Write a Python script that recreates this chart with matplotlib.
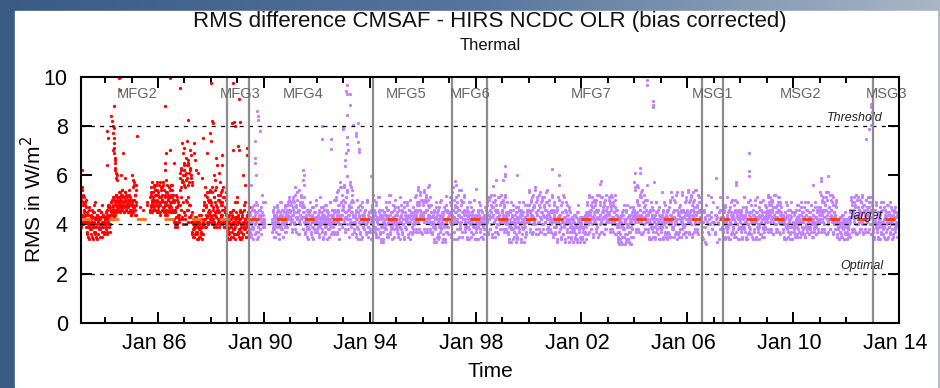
import numpy as np
import matplotlib.pyplot as plt
from matplotlib.patches import Rectangle
from matplotlib.colors import LinearSegmentedColormap
from matplotlib.transforms import ScaledTranslation

plt.rcParams['font.family'] = ['Liberation Sans', 'DejaVu Sans']
plt.rcParams['lines.scale_dashes'] = False

# each character is one RMS value: CODE index * 0.1 + 2.9 W/m2, '.' = no data
CODE = "0123456789abcdefghijklmnopqrstuvwxyz"
BASE, STEP = 2.9, 0.1

# MFG2/MFG3 period (red), one string per calendar year starting 1983
red_first_year = 1983
red_rms = [
    "..." + "hcmaqfkbnegjclf" + "d8gb6ica9fd7hbe5gca8kd6fbhc7ead9gb6jcfa8ed",
    "c9ge7hbjdfa8ifkdhmgjelfkhnigmj" + "hmjokilnhpjmgkiolhnjmikgpjl" + "gkf",
    "gvkitlrhnjpf" + "..............h.........j....." + "hnjqlgomkrihpjnlsg",
    "gojmsfkqhnlrigpmjtkhoflnqigmjrkhpnlg" + "ckaheniblfjd" + "cpuhxmsdvkrz",
    "xfqbwkuhzmseyjvcrg" + "7c9a6eb8xd7a5c9bfa6d8ub7" + "bhdkaqfjcmegbohdlf",
    "dkbqfiamcgpejbhldnagkcofjbhqdmagiclf" + "a6d9c7fb5ga8ec6hb9kd7ebm",
    "b7e9c5gd8a6fc7hb9dk6ae8cgb7" + "." * 33,
]
red_rms_2 = [
    "..." + "gdlbpejcmhfkai" + "c7fa5hdb9ec6gab8jd7ea5fcd9hb6gea8cfb7d",
    "bag8fdicjehbkgdlfimhkgnjlhi" + "kioglmjhnpikgmlojhkilgnjm" + "hjf",
    "hlgqjsifnkr" + "......i..............k....." + "gmioksjhqlnhrkgpi",
    "hnkrgjpmlqhsiknfogrjmlhqkpignrmkh" + "dlbgicmaked" + "fwjqyetbsgx",
    "gvdtlzhrcwjxeufs" + "8b6d9a7ce5b8wa6c9d7fa5" + "chbjdnaieoblfkcpg",
    "ejcodhbmfkaqgichldnbjepfkcmahdgob" + "b7e5c8ga6dfb9hc7ea5gdk",
    "c8f6d9hb5ega7cj9db6fc8eai" + "." * 30,
]

# MFG4 .. MSG3 period (purple), one string per calendar year starting 1989
purple_first_year = 1989
purple_rms = [
    "." * 27 + "d8gb6hcae9jd7fbkc5ga8dhe9bficndaf",
    "dak" + "." * 15 + "c8gb9eid6fajc7hbe5dgka9fc6hdbi8ecgaj" + "fkdhmb",
    "gcjd8mfhbkq9eidlg7hcpfjbndkeg9ime" + "c7fb9hda5gdkb8ecf6iad9gcbel",
    "d9fa6hcbmeb8gd5icfa7jdbheg9c6kdafb8hecl7gd" + "hcme8pgjb5sfkdqhai",
    "ldrg9kembphd6jfsciagnbke" + "c8fb6gdali9ec7hbd5fkac9gebh8dcl6fadg",
    "e9hc5jdbnfa8gd6kecb9mhd7fa4eb8c5gdaf9ie6hcbkd7nfa9gcjb6ehdla",
    "d8gb6icame9fc7hdb5kgad9ecj6fbhc8ldg7aeb9fc" + "hdnf8kgqc9jeoh8lfd",
    "kepg9ldhnc8jfqdi9mgeb" + "c7fa4hdb9ke6gc5iad8fbl4ecg7adh5jcb8gdaf",
    "gcmf7jdqbhe5lgicr9kdfn6hebpjc8gkdmfa" + "d8gb5hcakf9dc6iebg7adl5f",
    "c9fa5gdbk8ec6hbd5afc9ieb" + "ekgc7mfdh9jbne6ifckd8lgaeh7mdfbjc9ng",
    "hdlf8jcnge9k" + "c7fa4gdbk9ec5hdb8fa4icg6dak9eb5hcf7gdb4jeac8f" + "gdj",
    "jdpg8lfhb7neicqd9kgfm7hcjeo8gdlbf9iemc7khdpfa8jg" + "eb8hdnc6gfka",
    "d7ga4hdcme8fb5jdcg7nae4hcbk9fd6ica8g" + "b6e9a4d8c5fa7gb4dj9c6ea5",
    "c5ea8d4fb7ga" + "ekgc7ndfh9jbme6igckd8lhaeh6ndfbjc8mgehd7kfbn9gdi",
    "fcmg8jdhnb9kecgi7ldfh" + "b5e8a3d7c4gb6fa9j3cd5ha7eb4fc8ia3dg6" + "eig",
    "hdqf8kgrc9jenh7mfdpb8ige9lhcrd" + "c8fb5gdak9eb6hca5fdk8gbc7iad5e",
    "b8fa5hdck7ea6gd" + "e7hc6kdbofa9gd6lecb8nhd7fb6ie9gcodb7hea8kd6mf",
    "hcpf7kdgnb6jeoh8lfcpd9igb7mhek" + "d.g8.c5.h.ea.3f.nb.7d..ge.9c.k",
    "b.f7.d.i4.c.g.m9.e.a." + "e8gc5idbm9fa6hdc5kgb8eaf7jdcl6gbe9hda5f",
    "c8ha5fdbm9ec6igd5kbf8ael7gdc5hbf9jec6mgd8ba5heck7fd9ldb6gaie",
    "hdnf8kgmc9jelh7ifdnb8ige9khcmd7jgbfe" + "c8fb5gdak9eb6hca5fdk8gbc",
    "b8fa6gdcj7eb9hdc6fka8gec7iad6hfb9kdc7gea8jdb6fhc9kea7gdb8ich",
    "idog8lfhc9kejh7mfdob8ige9lhcnd7jgbfe9ki" + "b6d9a5c8e7bf6a9d5cg8b",
    "c7a5d9be6" + "gdme8jfhc9kein7lfdmb8hge9kicnd7jgbfe8lhcmf9idkgb7he",
    "c8fb5hdak9eb6gca5fdk8hbc7iad5egb9jc6fda8kbe5hcf7gdb9iea6f" + "...",
]
purple_rms_2 = [
    "." * 25 + "b9fc7ida5hebg8cjd6afbe9hc7gdkb",
    "cb" + "." * 15 + "d9ha6fcbe8gicd7afkb9ehc6gdaj8fbeh" + "jdgle",
    "hdkf9ligcnb8jeogdhc7kfmdie9jgc" + "b8eda6gcf9hbd7ica5ecg8bdj",
    "c8eb7gdaic9fd6hbe8jca5gdf9bkdc7ehaf8gb" + "gdlf7ohcj9qekbnfh",
    "jcqe8mgdof9ihbrdkg7lfc" + "b9ec7hda5gfcj8dbi6eac9fhd7bkca8ge",
    "d8gb5ieclh9fa7jdc6mgb8ed5hfa4cg9bkd7fhe6ncb8gda5jec9fib",
    "c9fb7hda5jec8gdbi6fac9kdb7ehc5gfad8icb" + "gcme9jhpd8kfnge7l",
    "fjcog8kdmh9lerfc8je" + "b8ec5gda4idf7hbc6kea9gd5fbi4dc8hae7g",
    "dkgb6ofhcqe8jdmg5ihcpfa9lek6gdnhb" + "c9fa6ide5gbk8dcf7hba5e",
    "b8eda5hcf9jbc6gea7dfb9" + "hcjf8lde9mgbi7kfcn6hdjb8gemfc9kdh",
    "gcke9idmfb8" + "d8gb5hca4fe9jc6dbg7ae5ich8fb4gda9kcb6ed7h" + "fcj",
    "hcog9kefm8idjbpg7lfchn9eikd8mgfb7jhcoe9kgdlf" + "c9gbmd7heja",
    "c8hb5ieclf9da6kgc7mbe5gdjb8fc4hda" + "a5d8c4f9b6e7a5gc8d4ba6",
    "b6d9a4e8c5f" + "djfb8mgch9kdie7lfcjb9ngdhe7kfcmd8igbje9lhcfd",
    "gdlf9kcime8jgdnb7hf" + "a6d4c8b5fe3a9hd6c7g4bja5e8d3fc6b9" + "dhf",
    "gcpe9ldjqf8mhcoe7kgdnb9jhfl" + "d9gb6hca5ifd8eca6kgb9dhc5fae",
    "c9ea6gdbj8fc5h" + "d8ib7lfc6mea9he7kdc5ogb8fjd6hc9nea7gfb8ld",
    "gdoe8lchmf7kdigb9pfdj8ngckh" + ".e.a6..g.d4.j..c8.f.b..m.9..",
    ".c.8f..e.b5.h..d.9." + "d9hb6jcae8gdb5icf7lda9eg6hcb8kfd5gea",
    "d9gb6ieam8fc5hdbk7gae9jcd6fhb8lcg5ead9ifb7khc6gda8ejcf9",
    "gcme9jfhd8lgkc7nfeib9jdmgh8kfcide" + "b9ec6gda5jfb8dc7hae5gb",
    "c9gb7hda6ecj8fdb7ica9gde6kbf8hca7edg9jbc6fda8ibe7hcg9df",
    "hcnf9kdgmb8jeoh7lgcidn9fhke8mcgjbfl9" + "c7a9d5b8e6ca9f5bd7a",
    "b8d6a9c7" + "hcle9kfgmd8jbne7idhcl9gkfbm8jdhe9lfcig8kdmb7hej",
    "d9gb6hcaj8fc5edbi7gac9kd6hfb8ec5jdga7fci9bd6hea8gcbe" + "...",
]

# isolated high values
red_out_t = [1983.12, 1984.08, 1984.10, 1984.06, 1984.22, 1984.33, 1984.28, 1984.30, 1984.32,
             1984.31, 1984.34, 1984.33, 1984.35, 1984.34, 1984.36, 1984.38, 1984.36, 1984.40,
             1984.42, 1984.37, 1984.39, 1984.44, 1984.30, 1984.46, 1984.52, 1984.57, 1984.55,
             1984.69, 1985.20, 1984.60, 1984.75, 1986.26, 1986.45, 1986.83, 1987.14, 1986.29,
             1986.45, 1986.25, 1986.27, 1986.60, 1986.90, 1986.95, 1987.00, 1987.05, 1987.10,
             1987.15, 1987.20, 1987.25, 1986.98, 1987.12, 1987.37, 1987.38, 1987.36, 1987.70,
             1987.98, 1987.99, 1988.00, 1988.05, 1988.06, 1987.85, 1988.20, 1988.22, 1988.40,
             1988.42, 1988.10, 1988.15, 1988.30, 1988.35, 1988.84, 1989.07, 1988.80, 1988.86,
             1988.90, 1989.08, 1989.04, 1989.05, 1988.84, 1989.35, 1989.36, 1989.20, 1989.30]
red_out_v = [6.2, 7.8, 7.5, 6.4, 8.4, 8.8, 8.2, 8.0, 7.9,
             7.7, 7.5, 7.3, 7.1, 6.9, 6.7, 6.5, 6.3, 6.1,
             5.9, 6.6, 6.2, 5.8, 7.0, 6.0, 9.95, 10.0, 9.45,
             6.9, 7.6, 6.0, 5.9, 8.8, 9.95, 9.55, 8.25, 6.9,
             7.0, 6.5, 6.2, 6.5, 7.3, 6.9, 7.1, 6.7, 7.4,
             6.6, 7.0, 6.8, 6.5, 6.5, 7.3, 6.6, 6.9, 7.5,
             7.7, 7.4, 9.75, 8.2, 8.1, 6.9, 6.7, 6.4, 6.8,
             6.4, 6.0, 5.8, 6.1, 5.7, 9.75, 9.1, 8.1, 8.15,
             8.0, 8.15, 7.2, 7.0, 7.0, 7.1, 6.8, 6.0, 5.6]

purple_out_t = [1989.73, 1989.76, 1989.77, 1989.84, 1989.66, 1989.66, 1989.67, 1989.70, 1989.50,
                1991.48, 1991.50, 1991.47, 1991.52, 1992.18, 1992.18, 1992.52, 1992.52,
                1993.14, 1993.12, 1993.13, 1993.25, 1993.25, 1993.14, 1992.98, 1992.98, 1993.36,
                1993.55, 1993.50, 1993.50, 1993.55, 1993.14, 1993.15, 1993.10, 1993.08, 1993.06,
                1993.14, 1993.18, 1993.60, 1993.60, 1993.30, 1993.33, 1994.05, 1997.22, 1996.90,
                1998.00, 1998.67, 1998.77, 1999.10, 1999.10, 1999.12, 1999.05, 1999.57, 2000.87,
                2001.16, 2001.16, 2002.72, 2002.74, 2004.02, 2004.21, 2004.21, 2004.00, 2004.74,
                2005.05, 2004.46, 2004.46, 2004.70, 2004.70, 2004.71, 2007.10, 2007.83, 2007.84,
                2008.32, 2008.34, 2008.33, 2011.07, 2011.30, 2011.07, 2010.75, 2012.95, 2012.96,
                2012.97, 2012.90, 2012.86, 2012.77, 2012.93]
purple_out_v = [8.6, 8.4, 8.25, 7.8, 7.4, 6.7, 6.5, 6.0, 5.6,
                6.2, 6.0, 5.8, 5.6, 8.0, 7.45, 7.45, 7.05,
                9.65, 9.4, 9.3, 9.3, 8.85, 8.45, 7.95, 7.85, 8.05,
                8.1, 7.7, 7.6, 7.35, 7.55, 7.25, 6.9, 6.6, 6.35,
                5.95, 7.0, 7.05, 6.95, 5.5, 5.4, 5.95, 5.75, 5.15,
                5.45, 5.55, 5.8, 6.35, 6.05, 5.95, 5.8, 6.0, 6.25,
                6.0, 5.6, 5.65, 5.75, 6.1, 6.3, 6.1, 5.7, 5.7,
                5.3, 9.85, 9.65, 9.0, 8.85, 8.75, 5.9, 5.7, 5.6,
                6.9, 6.15, 5.95, 5.9, 5.95, 5.75, 5.6, 8.9, 8.75,
                8.55, 8.3, 7.85, 7.45, 8.05]

# satellite changes and labels
sat_edges = [1988.61, 1989.45, 1994.11, 1997.12, 1998.42, 2006.56, 2007.34, 2013.02]
sat_names = ['MFG2', 'MFG3', 'MFG4', 'MFG5', 'MFG6', 'MFG7', 'MSG1', 'MSG2', 'MSG3']
sat_label_x = [1985.2, 1989.1, 1991.5, 1995.37, 1997.79, 2002.35, 2006.94, 2010.29, 2013.53]

# requirement levels and mean bias line
req_levels = [8, 4, 2]
req_names = ['Threshold', 'Target', 'Optimal']
mean_rms = 4.2
switch_year = 1989.45

year_ticks = list(range(1986, 2015, 4))
x_range = (1983.09, 2014.0)


def decode(first_year, rows):
    t, v = [], []
    for i, row in enumerate(rows):
        for k, ch in enumerate(row):
            if ch != '.':
                t.append(first_year + i + k / len(row))
                v.append(BASE + STEP * CODE.index(ch))
    return t, v


red_t, red_v = decode(red_first_year, red_rms)
t2, v2 = decode(red_first_year, red_rms_2)
red_t += t2 + red_out_t
red_v += v2 + red_out_v
pur_t, pur_v = decode(purple_first_year, purple_rms)
t2, v2 = decode(purple_first_year, purple_rms_2)
pur_t += t2 + purple_out_t
pur_v += v2 + purple_out_v

fig = plt.figure(figsize=(9.4, 3.88), dpi=100)

# blue frame with white panel
bg = fig.add_axes([0, 0, 1, 1], zorder=-10)
frame_cmap = LinearSegmentedColormap.from_list('frame', ['#3b5a84', '#56749c', '#a9b6c6'])
bg.imshow(np.linspace(0, 1, 256)[None, :], extent=[0, 1, 0, 1], aspect='auto', cmap=frame_cmap)
bg.add_patch(Rectangle((15 / 940, 1 / 388), 922 / 940, 376 / 388, color='white'))
bg.set_xlim(0, 1)
bg.set_ylim(0, 1)
bg.axis('off')

ax = fig.add_axes([81 / 940, 1 - 323 / 388, 818 / 940, 246.5 / 388])
ax.set_facecolor('white')

ax.scatter(red_t, red_v, s=5.5, color='#ff0000', linewidths=0, zorder=2)
ax.scatter(pur_t, pur_v, s=5.5, color='#c080ff', linewidths=0, zorder=2)

for lev, name in zip(req_levels, req_names):
    ax.plot(x_range, [lev, lev], color='black', lw=0.9, dashes=(2.9, 3.8), zorder=3)
    ax.text(2013.4, lev + 0.33, name, ha='right', va='center', style='italic',
            fontsize=9, color='#222222', zorder=4)

ax.plot([x_range[0], switch_year], [mean_rms, mean_rms], color='#ff7424', lw=2.1,
        dashes=(7.2, 12.7), zorder=3)
ax.plot([switch_year, x_range[1]], [mean_rms, mean_rms], color='#ff3c0a', lw=2.1,
        dashes=(7.2, 12.7), zorder=3)

for e in sat_edges:
    ax.axvline(e, color='#8c8c8c', lw=1.6, zorder=4)
for name, xl in zip(sat_names, sat_label_x):
    ax.text(xl, 9.27, name, ha='center', va='center', fontsize=10.5, color='#666666', zorder=5)

ax.set_xlim(*x_range)
ax.set_ylim(0, 10)
ax.set_xticks(year_ticks)
ax.set_xticklabels(['Jan %02d' % (y % 100) for y in year_ticks])
ax.set_xticks(range(1984, 2014), minor=True)
ax.set_yticks(range(0, 11, 2))
ax.tick_params(axis='both', which='both', direction='in', top=True, right=True,
               width=1.4, labelsize=15.5)
ax.tick_params(axis='both', which='major', length=8)
ax.tick_params(axis='x', which='minor', length=4.3)
ax.tick_params(axis='x', pad=7)
ax.tick_params(axis='y', pad=9.5)
for sp in ax.spines.values():
    sp.set_linewidth(1.5)
    sp.set_zorder(6)
shift = ScaledTranslation(-0.04, 0, fig.dpi_scale_trans)
for lab in ax.get_xticklabels():
    lab.set_transform(lab.get_transform() + shift)

ax.set_xlabel('Time', fontsize=15, labelpad=6)
ax.set_ylabel('RMS in W/m$^2$', fontsize=15, labelpad=-1)

fig.text(490 / 940, 1 - 21 / 388, 'RMS difference CMSAF - HIRS NCDC OLR (bias corrected)',
         ha='center', va='center', fontsize=16, color='#111111')
fig.text(490 / 940, 1 - 45 / 388, 'Thermal', ha='center', va='center', fontsize=12,
         color='#111111')

fig.savefig('out.png', dpi=100)
